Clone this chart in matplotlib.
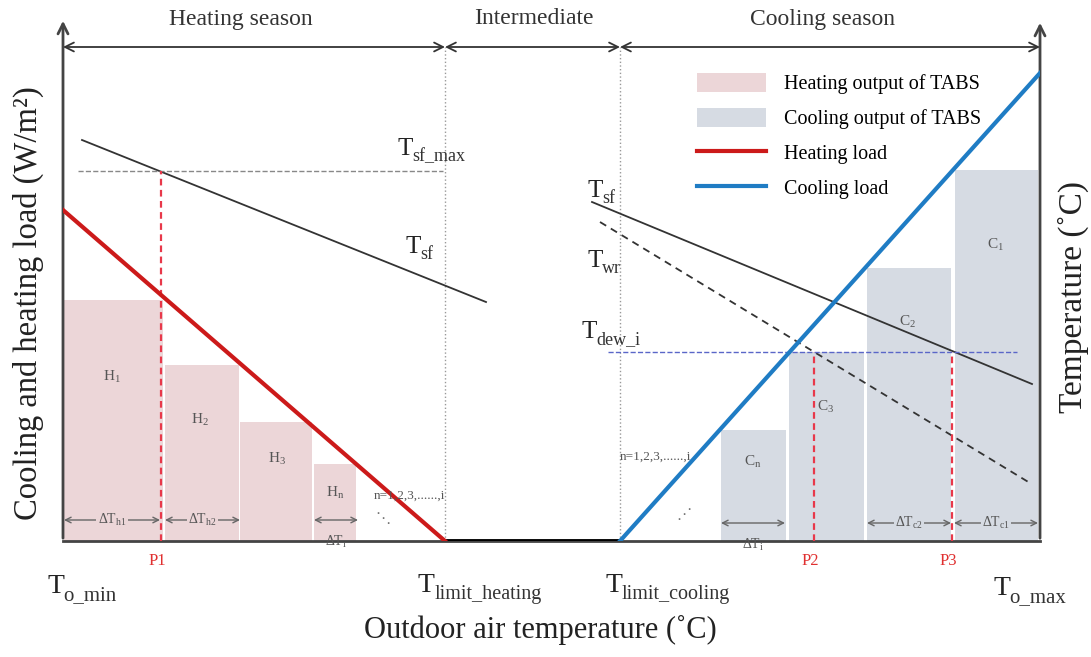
import matplotlib
matplotlib.use("Agg")
import matplotlib.pyplot as plt
from matplotlib.patches import Patch
from matplotlib.lines import Line2D

plt.rcParams['font.family'] = ['Liberation Serif', 'DejaVu Serif']
plt.rcParams['mathtext.fontset'] = 'custom'
plt.rcParams['mathtext.rm'] = 'Liberation Serif'
plt.rcParams['mathtext.it'] = 'Liberation Serif:italic'

# schematic units: x = outdoor temperature axis, y = load / temperature
x_min, x_max = 0, 977
x_lim_heat, x_lim_cool = 382, 557
y_top = 494

# loads
heat_load_x = [0, 382]
heat_load_y = [331, 0]
cool_load_x = [557, 977]
cool_load_y = [0, 468]

# TABS output bins (left, right, height)
heat_bins = [(1, 100, 241), (102, 176, 176), (177, 249, 119), (251, 293, 77)]
heat_names = ['H_1', 'H_2', 'H_3', 'H_n']
cool_bins = [(658, 723, 111), (726, 801, 189), (804, 888, 273), (892, 975, 371)]
cool_names = ['C_n', 'C_3', 'C_2', 'C_1']

# supply / return water temperatures
tsf_heat_x, tsf_heat_y = [19, 423], [401, 239]
tsf_max_x, tsf_max_y = [15, 380], [370, 370]
tsf_cool_x, tsf_cool_y = [529, 969], [339, 157]
twr_x, twr_y = [537, 967], [319, 58]
tdew_x, tdew_y = [545, 954], [189, 189]

# design points
p_x = [98, 751, 889]
p_top = [370, 189, 189]
p_names = ['P1', 'P2', 'P3']

pink = '#ecd6d8'
grey = '#d6dbe3'
red = '#cc1a1a'
blue = '#1f7cc4'
lab = '#555555'

fig = plt.figure(figsize=(10.91, 6.57), dpi=100)
ax = fig.add_axes([63 / 1091, 116 / 657, 977 / 1091, 526 / 657])
ax.set_xlim(x_min, x_max)
ax.set_ylim(0, 526)
ax.axis('off')


def tlabel(x, y, sub, fs=18, fs_sub=13):
    # "T" with a large subscript, anchored at the baseline of the T
    ax.text(x, y, 'T', fontsize=fs, color='#222222', ha='left', va='baseline', zorder=8)
    ax.annotate(sub, xy=(x, y), xytext=(0.6 * fs, -0.24 * fs), textcoords='offset points',
                fontsize=fs_sub, color='#333333', ha='left', va='baseline', zorder=8,
                annotation_clip=False)


for (l, r, h) in heat_bins:
    ax.bar(l, h, width=r - l, align='edge', color=pink, lw=0, zorder=1)
for (l, r, h) in cool_bins:
    ax.bar(l, h, width=r - l, align='edge', color=grey, lw=0, zorder=1)

# axes frame with arrows
ax.plot([x_min, x_max], [0, 0], color='#444444', lw=2, zorder=4, clip_on=False)
ax.plot([x_lim_heat, x_lim_cool], [0, 0], color='black', lw=3.5, zorder=5)
arw = dict(arrowstyle='->', color='#444444', lw=2, mutation_scale=18)
ax.annotate('', xy=(x_min, 523), xytext=(x_min, 0), arrowprops=arw, annotation_clip=False)
ax.annotate('', xy=(x_max, 521), xytext=(x_max, 0), arrowprops=arw, annotation_clip=False)

# season spans
seasons = [(x_min, x_lim_heat, 178, 'Heating season'),
           (x_lim_heat, x_lim_cool, 471, 'Intermediate'),
           (x_lim_cool, x_max, 759, 'Cooling season')]
for a, b, xc, name in seasons:
    ax.annotate('', xy=(a, y_top), xytext=(b, y_top),
                arrowprops=dict(arrowstyle='<->', color='#333333', lw=1.3,
                                mutation_scale=16, shrinkA=0, shrinkB=0))
    ax.text(xc, 522, name, ha='center', va='center', fontsize=17, color='#333333')

for xv in [x_lim_heat, x_lim_cool]:
    ax.plot([xv, xv], [0, y_top], color='#999999', lw=1, ls=':', zorder=2)

ax.plot(heat_load_x, heat_load_y, color=red, lw=3, zorder=6)
ax.plot(cool_load_x, cool_load_y, color=blue, lw=3, zorder=6)

ax.plot(tsf_heat_x, tsf_heat_y, color='#333333', lw=1.3, zorder=5)
ax.plot(tsf_max_x, tsf_max_y, color='#888888', lw=1, ls='--', zorder=5)
ax.plot(tsf_cool_x, tsf_cool_y, color='#333333', lw=1.3, zorder=5)
ax.plot(twr_x, twr_y, color='#333333', lw=1.3, ls=(0, (4, 3)), zorder=5)
ax.plot(tdew_x, tdew_y, color='#5a66c8', lw=1, ls='--', zorder=5)

for xv, yt, name in zip(p_x, p_top, p_names):
    ax.plot([xv, xv], [0, yt], color='#e8384a', lw=1.6, ls=(0, (3, 2)), zorder=5)
    ax.text(xv - 4, -20, name, ha='center', va='center', fontsize=12, color='#e03030')

# bin labels
heat_lab_pos = [(49, 164), (137, 121), (214, 82), (272, 48)]
for (x, y), n in zip(heat_lab_pos, heat_names):
    ax.text(x, y, r'$\mathrm{%s}$' % n, ha='center', va='center', fontsize=11, color=lab, zorder=7)
cool_lab_pos = [(690, 79), (763, 134), (844, 219), (933, 296)]
for (x, y), n in zip(cool_lab_pos, cool_names):
    ax.text(x, y, r'$\mathrm{%s}$' % n, ha='center', va='center', fontsize=11, color=lab, zorder=7)

# bin widths
spans = [(1, 97, 21, r'$\mathrm{\Delta T_{h1}}$', pink, True),
         (102, 177, 21, r'$\mathrm{\Delta T_{h2}}$', pink, True),
         (251, 295, 21, r'$\mathrm{\Delta T_i}$', pink, False),
         (658, 722, 18, r'$\mathrm{\Delta T_i}$', grey, False),
         (804, 888, 18, r'$\mathrm{\Delta T_{c2}}$', grey, True),
         (891, 975, 18, r'$\mathrm{\Delta T_{c1}}$', grey, True)]
for a, b, y, txt, bg, inside in spans:
    ax.annotate('', xy=(a, y), xytext=(b, y),
                arrowprops=dict(arrowstyle='<->', color='#666666', lw=1,
                                mutation_scale=10, shrinkA=0, shrinkB=0), zorder=6)
    if inside:
        ax.text((a + b) / 2, y, txt, ha='center', va='center', fontsize=10, color=lab,
                bbox=dict(facecolor=bg, edgecolor='none', pad=1), zorder=7)
    else:
        ax.text((a + b) / 2, y - 22, txt, ha='center', va='center', fontsize=10, color=lab, zorder=7)

ax.text(311, 45, 'n=1,2,3,......,i', ha='left', va='center', fontsize=9.5, color=lab, zorder=7)
ax.text(557, 84, 'n=1,2,3,......,i', ha='left', va='center', fontsize=9.5, color=lab, zorder=7)
ax.text(320, 22, '\u22f1', ha='center', va='center', fontsize=11, color='#777777', family='DejaVu Sans')
ax.text(621, 26, '\u22f0', ha='center', va='center', fontsize=11, color='#777777', family='DejaVu Sans')

# temperature line labels
tlabel(334, 386, 'sf_max')
tlabel(342, 288, 'sf')
tlabel(524, 344, 'sf')
tlabel(524, 274, 'wr')
tlabel(518, 203, 'dew_i')

# x-axis landmarks
tlabel(-16, -52, 'o_min', fs=20, fs_sub=15)
tlabel(355, -51, 'limit_heating', fs=20, fs_sub=14.5)
tlabel(542, -51, 'limit_cooling', fs=20, fs_sub=14.5)
tlabel(930, -54, 'o_max', fs=20, fs_sub=15)

fig.text(540 / 1091, 1 - 630 / 657, 'Outdoor air temperature (\u02daC)', ha='center', va='center',
         fontsize=22, color='#222222')
fig.text(28 / 1091, 1 - 303 / 657, 'Cooling and heating load (W/m\u00b2)', ha='center', va='center',
         rotation=90, fontsize=23.5, color='#222222')
fig.text(1073 / 1091, 1 - 297 / 657, 'Temperature (\u02daC)', ha='center', va='center',
         rotation=90, fontsize=24, color='#222222')

handles = [Patch(facecolor=pink, edgecolor='none', label='Heating output of TABS'),
           Patch(facecolor=grey, edgecolor='none', label='Cooling output of TABS'),
           Line2D([], [], color=red, lw=3, label='Heating load'),
           Line2D([], [], color=blue, lw=3, label='Cooling load')]
leg = ax.legend(handles=handles, loc='upper left', bbox_to_anchor=(626 / 977, 1 - 50 / 526),
                frameon=False, fontsize=14.5, handlelength=3.4, handleheight=1.05,
                labelspacing=0.68, handletextpad=0.9, borderaxespad=0)

fig.savefig('out.png', dpi=100)
